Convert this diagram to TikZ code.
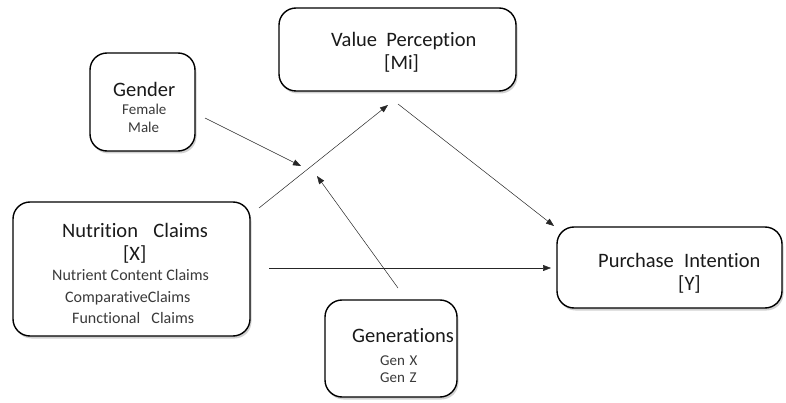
\documentclass[tikz,border=0pt]{standalone}
\usepackage{fontspec}
\setmainfont{Carlito}[Ligatures={NoCommon}]
\usetikzlibrary{shadows,arrows.meta}
\definecolor{txt}{HTML}{1A1A1A}
\definecolor{subtxt}{HTML}{3A3A3A}
\tikzset{
  box/.style={draw=black, line width=1.4pt, rounded corners=17pt, fill=white,
    drop shadow={shadow xshift=1.5pt, shadow yshift=-2.5pt, fill=black!18, opacity=1}},
  ttl/.style={text=txt, font=\fontsize{20.5}{22}\selectfont, inner sep=0pt, anchor=base west},
  sub/.style={text=subtxt, font=\fontsize{16}{18}\selectfont, inner sep=0pt, anchor=base west},
  subs/.style={text=subtxt, font=\fontsize{15}{17}\selectfont, inner sep=0pt, anchor=base west},
  conn/.style={draw=black!85, line width=0.5pt, -{Triangle[length=8pt,width=6pt]}}
}
\begin{document}
\begin{tikzpicture}[x=1pt,y=-1pt]
\useasboundingbox (0,0) rectangle (786,403);
% boxes
\path[box] (279,8) rectangle (516,91);
\path[box] (90,53) rectangle (195,151);
\path[box] (13,202) rectangle (250,336);
\path[box] (557,227) rectangle (782,308);
\path[box] (325,300) rectangle (457,397);
% texts
\node[ttl] (vp1) at (331,47) {Value\hspace{0.45em}Perception};
\node[ttl] (vp2) at (384,70) {[Mi]};
\node[ttl] (g1) at (113,97) {Gender};
\node[subs] (g2) at (122,115) {Female};
\node[subs] (g3) at (128,133) {Male};
\node[ttl] (n1) at (62,237) {Nutrition\hspace{0.75em}Claims};
\node[ttl] (n2) at (123,260) {[X]};
\node[sub] (n3) at (52,280) {Nutrient Content Claims};
\node[sub] (n4) at (65,302) {ComparativeClaims};
\node[sub] (n5) at (72,323) {Functional\hspace{0.7em}Claims};
\node[ttl] (p1) at (598,267) {Purchase\hspace{0.5em}Intention};
\node[ttl] (p2) at (678,290) {[Y]};
\node[ttl] (ge1) at (352,342) {Generations};
\node[subs] (ge2) at (380,365) {Gen\hspace{0.3em}X};
\node[subs] (ge3) at (380,382) {Gen\hspace{0.3em}Z};
% connector anchors
\coordinate (gs) at (205,118);
\coordinate (ge) at (301,166);
\coordinate (ns) at (259,208);
\coordinate (ne) at (388,105);
\coordinate (vs) at (398,104);
\coordinate (ve) at (554,226);
\coordinate (nps) at (269,268);
\coordinate (npe) at (551,268);
\coordinate (gns) at (398,288);
\coordinate (gne) at (317,176);
\draw[conn] (gs) -- (ge);
\draw[conn] (ns) -- (ne);
\draw[conn] (vs) -- (ve);
\draw[conn] (nps) -- (npe);
\draw[conn] (gns) -- (gne);
\end{tikzpicture}
\end{document}
